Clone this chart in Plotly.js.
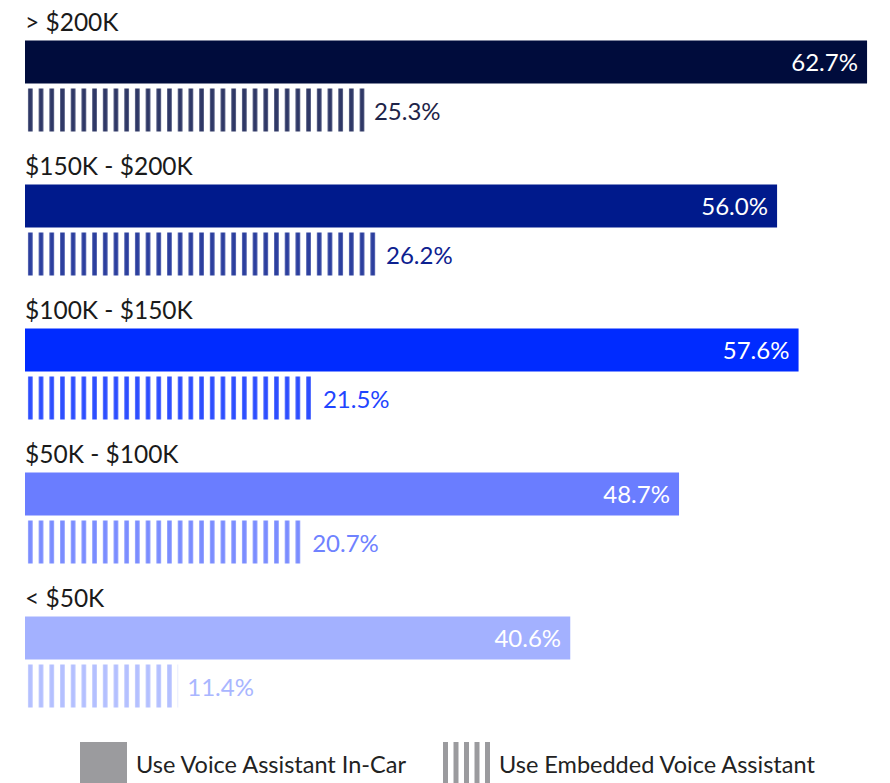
<!DOCTYPE html>
<html>
<head>
<meta charset="utf-8">
<script src="https://cdn.plot.ly/plotly-3.0.1.min.js"></script>
<style>html,body{margin:0;padding:0;background:#fff;}#chart{width:890px;height:783px;}</style>
</head>
<body>
<div id="chart"></div>
<script>
// ---- data ----
const categories = ['> $200K', '$150K - $200K', '$100K - $150K', '$50K - $100K', '< $50K'];
const inCar = [62.7, 56.0, 57.6, 48.7, 40.6];
const embedded = [25.3, 26.2, 21.5, 20.7, 11.4];
const seriesNames = ['Use Voice Assistant In-Car', 'Use Embedded Voice Assistant'];

// ---- styles ----
const solidColors = ['#000C3C', '#001A8C', '#002BFF', '#6A7DFF', '#A3B1FF'];
const stripeColors = ['#2F3866', '#2C3F9E', '#2D4EFF', '#7B8DFF', '#B4C0FF'];
const outsideTextColors = ['#1E2448', '#0D2190', '#1F45FF', '#6F82FF', '#A9B6FF'];
const FONT = 'Lato, "Open Sans", sans-serif';

const W = 890, H = 783;
const M = {l: 25, r: 5, t: 14, b: 49};
const plotW = W - M.l - M.r, plotH = H - M.t - M.b;
const px2x = p => (p - M.l) / plotW;
const px2y = p => (H - M.b - p) / plotH;

const traces = [
  {
    type: 'bar', orientation: 'h', name: seriesNames[0],
    y: categories, x: inCar,
    marker: {color: solidColors, line: {width: 0}},
    texttemplate: '%{x:.1f}%\u00a0', textposition: 'inside', insidetextanchor: 'end',
    constraintext: 'none',
    textfont: {family: FONT, size: 24, color: '#ffffff'},
    hoverinfo: 'skip'
  },
  {
    type: 'bar', orientation: 'h', name: seriesNames[1],
    y: categories, x: embedded,
    marker: {color: stripeColors, line: {width: 0},
      pattern: {shape: '|', size: 10.7, solidity: 0.42, fillmode: 'replace'}},
    texttemplate: '\u00a0%{x:.1f}%', textposition: 'outside', cliponaxis: false,
    constraintext: 'none',
    textfont: {family: FONT, size: 24, color: outsideTextColors},
    hoverinfo: 'skip'
  }
];

const annotations = categories.map(c => ({
  xref: 'x', yref: 'y', x: 0, y: c, xanchor: 'left', yanchor: 'middle',
  yshift: 64.5, xshift: -2, showarrow: false, text: c,
  font: {family: FONT, size: 24.5, color: '#1a1a1a'}
}));

// custom legend
const shapes = [];
const legY0 = px2y(742), legY1 = px2y(786);
shapes.push({type: 'rect', xref: 'paper', yref: 'paper', x0: px2x(80), x1: px2x(127),
  y0: legY1, y1: legY0, fillcolor: '#9B9B9E', line: {width: 0}});
for (let i = 0; i < 5; i++) {
  const cx = 445.5 + i * 10.5;
  shapes.push({type: 'line', xref: 'paper', yref: 'paper', x0: px2x(cx), x1: px2x(cx),
    y0: legY1, y1: legY0, line: {color: '#9B9B9E', width: 5}});
}
annotations.push({xref: 'paper', yref: 'paper', x: px2x(134), y: px2y(764), xanchor: 'left', yanchor: 'middle',
  showarrow: false, text: seriesNames[0], font: {family: FONT, size: 23.5, color: '#222'}});
annotations.push({xref: 'paper', yref: 'paper', x: px2x(497), y: px2y(764), xanchor: 'left', yanchor: 'middle',
  showarrow: false, text: seriesNames[1], font: {family: FONT, size: 23.5, color: '#222'}});

const layout = {
  width: W, height: H,
  margin: M,
  paper_bgcolor: '#fff', plot_bgcolor: '#fff',
  barmode: 'group', bargap: 0.333, bargroupgap: 0.104,
  showlegend: false,
  xaxis: {range: [0, plotW / 13.43], visible: false, fixedrange: true},
  yaxis: {type: 'category', range: [categories.length - 0.5, -0.5], showticklabels: false, showgrid: false,
    zeroline: false, showline: false, ticks: '', fixedrange: true},
  annotations: annotations,
  shapes: shapes
};

Plotly.newPlot('chart', traces, layout, {displayModeBar: false, staticPlot: true});
</script>
</body>
</html>
